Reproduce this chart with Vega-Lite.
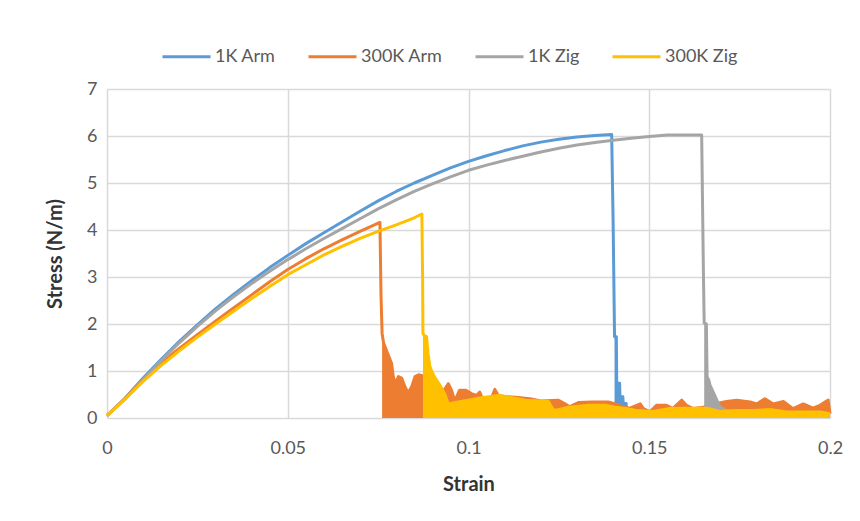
{
  "$schema": "https://vega.github.io/schema/vega-lite/v6.json",
  "autosize": "none",
  "width": 723,
  "height": 329,
  "padding": {"left": 107, "top": 89, "right": 30, "bottom": 103},
  "background": "#ffffff",
  "config": {
    "font": "Lato",
    "view": {"stroke": null},
    "axis": {
      "domain": false,
      "ticks": false,
      "grid": true,
      "gridColor": "#D9D9D9",
      "gridWidth": 1.5,
      "labelFont": "Lato",
      "labelFontSize": 18,
      "labelColor": "#595959",
      "titleFont": "Lato",
      "titleFontSize": 20,
      "titleFontWeight": "bold",
      "titleColor": "#333333"
    },
    "legend": {
      "labelFont": "Lato",
      "labelFontSize": 18,
      "labelColor": "#595959"
    }
  },
  "datasets": {
    "curves": [
      {"series": "1K Arm", "phase": "loading", "strain": 0, "stress": 0.05},
      {"series": "1K Arm", "phase": "loading", "strain": 0.005, "stress": 0.42},
      {"series": "1K Arm", "phase": "loading", "strain": 0.01, "stress": 0.85},
      {"series": "1K Arm", "phase": "loading", "strain": 0.015, "stress": 1.25},
      {"series": "1K Arm", "phase": "loading", "strain": 0.02, "stress": 1.63},
      {"series": "1K Arm", "phase": "loading", "strain": 0.025, "stress": 1.98},
      {"series": "1K Arm", "phase": "loading", "strain": 0.03, "stress": 2.32},
      {"series": "1K Arm", "phase": "loading", "strain": 0.035, "stress": 2.63},
      {"series": "1K Arm", "phase": "loading", "strain": 0.04, "stress": 2.92},
      {"series": "1K Arm", "phase": "loading", "strain": 0.045, "stress": 3.2},
      {"series": "1K Arm", "phase": "loading", "strain": 0.05, "stress": 3.46},
      {"series": "1K Arm", "phase": "loading", "strain": 0.055, "stress": 3.71},
      {"series": "1K Arm", "phase": "loading", "strain": 0.06, "stress": 3.94},
      {"series": "1K Arm", "phase": "loading", "strain": 0.065, "stress": 4.17},
      {"series": "1K Arm", "phase": "loading", "strain": 0.07, "stress": 4.4},
      {"series": "1K Arm", "phase": "loading", "strain": 0.075, "stress": 4.62},
      {"series": "1K Arm", "phase": "loading", "strain": 0.08, "stress": 4.82},
      {"series": "1K Arm", "phase": "loading", "strain": 0.085, "stress": 5.0},
      {"series": "1K Arm", "phase": "loading", "strain": 0.09, "stress": 5.16},
      {"series": "1K Arm", "phase": "loading", "strain": 0.095, "stress": 5.32},
      {"series": "1K Arm", "phase": "loading", "strain": 0.1, "stress": 5.46},
      {"series": "1K Arm", "phase": "loading", "strain": 0.105, "stress": 5.58},
      {"series": "1K Arm", "phase": "loading", "strain": 0.11, "stress": 5.69},
      {"series": "1K Arm", "phase": "loading", "strain": 0.115, "stress": 5.79},
      {"series": "1K Arm", "phase": "loading", "strain": 0.12, "stress": 5.87},
      {"series": "1K Arm", "phase": "loading", "strain": 0.125, "stress": 5.93},
      {"series": "1K Arm", "phase": "loading", "strain": 0.13, "stress": 5.98},
      {"series": "1K Arm", "phase": "loading", "strain": 0.135, "stress": 6.01},
      {"series": "1K Arm", "phase": "loading", "strain": 0.1396, "stress": 6.03},
      {"series": "1K Arm", "phase": "loading", "strain": 0.14, "stress": 4.2},
      {"series": "1K Arm", "phase": "post-failure", "strain": 0.1404, "stress": 1.73},
      {"series": "1K Arm", "phase": "post-failure", "strain": 0.1409, "stress": 1.73},
      {"series": "1K Arm", "phase": "post-failure", "strain": 0.141, "stress": 0.74},
      {"series": "1K Arm", "phase": "post-failure", "strain": 0.1418, "stress": 0.74},
      {"series": "1K Arm", "phase": "post-failure", "strain": 0.1419, "stress": 0.45},
      {"series": "1K Arm", "phase": "post-failure", "strain": 0.1427, "stress": 0.45},
      {"series": "1K Arm", "phase": "post-failure", "strain": 0.1428, "stress": 0.31},
      {"series": "1K Arm", "phase": "post-failure", "strain": 0.1436, "stress": 0.31},
      {"series": "1K Arm", "phase": "post-failure", "strain": 0.1437, "stress": 0.17},
      {"series": "1K Arm", "phase": "post-failure", "strain": 0.1444, "stress": 0.12},
      {"series": "1K Arm", "phase": "post-failure", "strain": 0.146, "stress": 0.05},
      {"series": "1K Arm", "phase": "post-failure", "strain": 0.15, "stress": 0.03},

      {"series": "300K Arm", "phase": "loading", "strain": 0, "stress": 0.05},
      {"series": "300K Arm", "phase": "loading", "strain": 0.005, "stress": 0.42},
      {"series": "300K Arm", "phase": "loading", "strain": 0.01, "stress": 0.82},
      {"series": "300K Arm", "phase": "loading", "strain": 0.015, "stress": 1.17},
      {"series": "300K Arm", "phase": "loading", "strain": 0.02, "stress": 1.48},
      {"series": "300K Arm", "phase": "loading", "strain": 0.025, "stress": 1.77},
      {"series": "300K Arm", "phase": "loading", "strain": 0.03, "stress": 2.06},
      {"series": "300K Arm", "phase": "loading", "strain": 0.035, "stress": 2.34},
      {"series": "300K Arm", "phase": "loading", "strain": 0.04, "stress": 2.62},
      {"series": "300K Arm", "phase": "loading", "strain": 0.045, "stress": 2.9},
      {"series": "300K Arm", "phase": "loading", "strain": 0.05, "stress": 3.16},
      {"series": "300K Arm", "phase": "loading", "strain": 0.055, "stress": 3.39},
      {"series": "300K Arm", "phase": "loading", "strain": 0.06, "stress": 3.6},
      {"series": "300K Arm", "phase": "loading", "strain": 0.065, "stress": 3.79},
      {"series": "300K Arm", "phase": "loading", "strain": 0.07, "stress": 3.97},
      {"series": "300K Arm", "phase": "loading", "strain": 0.0755, "stress": 4.16},
      {"series": "300K Arm", "phase": "loading", "strain": 0.0758, "stress": 2.6},
      {"series": "300K Arm", "phase": "post-failure", "strain": 0.0761, "stress": 1.8},
      {"series": "300K Arm", "phase": "post-failure", "strain": 0.0765, "stress": 1.6},
      {"series": "300K Arm", "phase": "post-failure", "strain": 0.0769, "stress": 1.52},
      {"series": "300K Arm", "phase": "post-failure", "strain": 0.0778, "stress": 1.34},
      {"series": "300K Arm", "phase": "post-failure", "strain": 0.0787, "stress": 1.17},
      {"series": "300K Arm", "phase": "post-failure", "strain": 0.0792, "stress": 0.88},
      {"series": "300K Arm", "phase": "post-failure", "strain": 0.0796, "stress": 0.74},
      {"series": "300K Arm", "phase": "post-failure", "strain": 0.0801, "stress": 0.8},
      {"series": "300K Arm", "phase": "post-failure", "strain": 0.0806, "stress": 0.88},
      {"series": "300K Arm", "phase": "post-failure", "strain": 0.0815, "stress": 0.85},
      {"series": "300K Arm", "phase": "post-failure", "strain": 0.0824, "stress": 0.67},
      {"series": "300K Arm", "phase": "post-failure", "strain": 0.0833, "stress": 0.53},
      {"series": "300K Arm", "phase": "post-failure", "strain": 0.0838, "stress": 0.6},
      {"series": "300K Arm", "phase": "post-failure", "strain": 0.0843, "stress": 0.67},
      {"series": "300K Arm", "phase": "post-failure", "strain": 0.0852, "stress": 0.88},
      {"series": "300K Arm", "phase": "post-failure", "strain": 0.0862, "stress": 0.92},
      {"series": "300K Arm", "phase": "post-failure", "strain": 0.0872, "stress": 0.9},
      {"series": "300K Arm", "phase": "post-failure", "strain": 0.0885, "stress": 0.75},
      {"series": "300K Arm", "phase": "post-failure", "strain": 0.0905, "stress": 0.6},
      {"series": "300K Arm", "phase": "post-failure", "strain": 0.092, "stress": 0.55},
      {"series": "300K Arm", "phase": "post-failure", "strain": 0.0935, "stress": 0.62},
      {"series": "300K Arm", "phase": "post-failure", "strain": 0.0944, "stress": 0.73},
      {"series": "300K Arm", "phase": "post-failure", "strain": 0.0953, "stress": 0.59},
      {"series": "300K Arm", "phase": "post-failure", "strain": 0.0962, "stress": 0.36},
      {"series": "300K Arm", "phase": "post-failure", "strain": 0.0975, "stress": 0.59},
      {"series": "300K Arm", "phase": "post-failure", "strain": 0.0993, "stress": 0.59},
      {"series": "300K Arm", "phase": "post-failure", "strain": 0.1008, "stress": 0.52},
      {"series": "300K Arm", "phase": "post-failure", "strain": 0.1022, "stress": 0.48},
      {"series": "300K Arm", "phase": "post-failure", "strain": 0.1031, "stress": 0.55},
      {"series": "300K Arm", "phase": "post-failure", "strain": 0.104, "stress": 0.38},
      {"series": "300K Arm", "phase": "post-failure", "strain": 0.1059, "stress": 0.34},
      {"series": "300K Arm", "phase": "post-failure", "strain": 0.1073, "stress": 0.61},
      {"series": "300K Arm", "phase": "post-failure", "strain": 0.1082, "stress": 0.48},
      {"series": "300K Arm", "phase": "post-failure", "strain": 0.11, "stress": 0.46},
      {"series": "300K Arm", "phase": "post-failure", "strain": 0.113, "stress": 0.44},
      {"series": "300K Arm", "phase": "post-failure", "strain": 0.117, "stress": 0.41},
      {"series": "300K Arm", "phase": "post-failure", "strain": 0.12, "stress": 0.36},
      {"series": "300K Arm", "phase": "post-failure", "strain": 0.1248, "stress": 0.38},
      {"series": "300K Arm", "phase": "post-failure", "strain": 0.1267, "stress": 0.3},
      {"series": "300K Arm", "phase": "post-failure", "strain": 0.128, "stress": 0.24},
      {"series": "300K Arm", "phase": "post-failure", "strain": 0.1304, "stress": 0.33},
      {"series": "300K Arm", "phase": "post-failure", "strain": 0.1341, "stress": 0.34},
      {"series": "300K Arm", "phase": "post-failure", "strain": 0.1387, "stress": 0.34},
      {"series": "300K Arm", "phase": "post-failure", "strain": 0.1406, "stress": 0.3},
      {"series": "300K Arm", "phase": "post-failure", "strain": 0.1425, "stress": 0.24},
      {"series": "300K Arm", "phase": "post-failure", "strain": 0.1447, "stress": 0.21},
      {"series": "300K Arm", "phase": "post-failure", "strain": 0.1475, "stress": 0.3},
      {"series": "300K Arm", "phase": "post-failure", "strain": 0.1484, "stress": 0.2},
      {"series": "300K Arm", "phase": "post-failure", "strain": 0.1502, "stress": 0.13},
      {"series": "300K Arm", "phase": "post-failure", "strain": 0.152, "stress": 0.27},
      {"series": "300K Arm", "phase": "post-failure", "strain": 0.1548, "stress": 0.27},
      {"series": "300K Arm", "phase": "post-failure", "strain": 0.1565, "stress": 0.2},
      {"series": "300K Arm", "phase": "post-failure", "strain": 0.159, "stress": 0.38},
      {"series": "300K Arm", "phase": "post-failure", "strain": 0.1603, "stress": 0.27},
      {"series": "300K Arm", "phase": "post-failure", "strain": 0.1622, "stress": 0.2},
      {"series": "300K Arm", "phase": "post-failure", "strain": 0.165, "stress": 0.23},
      {"series": "300K Arm", "phase": "post-failure", "strain": 0.168, "stress": 0.3},
      {"series": "300K Arm", "phase": "post-failure", "strain": 0.1714, "stress": 0.35},
      {"series": "300K Arm", "phase": "post-failure", "strain": 0.1742, "stress": 0.38},
      {"series": "300K Arm", "phase": "post-failure", "strain": 0.1779, "stress": 0.34},
      {"series": "300K Arm", "phase": "post-failure", "strain": 0.1797, "stress": 0.3},
      {"series": "300K Arm", "phase": "post-failure", "strain": 0.182, "stress": 0.41},
      {"series": "300K Arm", "phase": "post-failure", "strain": 0.1843, "stress": 0.3},
      {"series": "300K Arm", "phase": "post-failure", "strain": 0.1871, "stress": 0.35},
      {"series": "300K Arm", "phase": "post-failure", "strain": 0.1898, "stress": 0.2},
      {"series": "300K Arm", "phase": "post-failure", "strain": 0.1926, "stress": 0.3},
      {"series": "300K Arm", "phase": "post-failure", "strain": 0.1953, "stress": 0.21},
      {"series": "300K Arm", "phase": "post-failure", "strain": 0.1972, "stress": 0.27},
      {"series": "300K Arm", "phase": "post-failure", "strain": 0.1995, "stress": 0.38},
      {"series": "300K Arm", "phase": "post-failure", "strain": 0.2, "stress": 0.09},

      {"series": "1K Zig", "phase": "loading", "strain": 0, "stress": 0.05},
      {"series": "1K Zig", "phase": "loading", "strain": 0.005, "stress": 0.4},
      {"series": "1K Zig", "phase": "loading", "strain": 0.01, "stress": 0.82},
      {"series": "1K Zig", "phase": "loading", "strain": 0.015, "stress": 1.22},
      {"series": "1K Zig", "phase": "loading", "strain": 0.02, "stress": 1.6},
      {"series": "1K Zig", "phase": "loading", "strain": 0.025, "stress": 1.95},
      {"series": "1K Zig", "phase": "loading", "strain": 0.03, "stress": 2.28},
      {"series": "1K Zig", "phase": "loading", "strain": 0.035, "stress": 2.58},
      {"series": "1K Zig", "phase": "loading", "strain": 0.04, "stress": 2.86},
      {"series": "1K Zig", "phase": "loading", "strain": 0.045, "stress": 3.12},
      {"series": "1K Zig", "phase": "loading", "strain": 0.05, "stress": 3.37},
      {"series": "1K Zig", "phase": "loading", "strain": 0.055, "stress": 3.6},
      {"series": "1K Zig", "phase": "loading", "strain": 0.06, "stress": 3.82},
      {"series": "1K Zig", "phase": "loading", "strain": 0.065, "stress": 4.03},
      {"series": "1K Zig", "phase": "loading", "strain": 0.07, "stress": 4.24},
      {"series": "1K Zig", "phase": "loading", "strain": 0.075, "stress": 4.45},
      {"series": "1K Zig", "phase": "loading", "strain": 0.08, "stress": 4.64},
      {"series": "1K Zig", "phase": "loading", "strain": 0.085, "stress": 4.82},
      {"series": "1K Zig", "phase": "loading", "strain": 0.09, "stress": 4.98},
      {"series": "1K Zig", "phase": "loading", "strain": 0.095, "stress": 5.13},
      {"series": "1K Zig", "phase": "loading", "strain": 0.1, "stress": 5.27},
      {"series": "1K Zig", "phase": "loading", "strain": 0.105, "stress": 5.38},
      {"series": "1K Zig", "phase": "loading", "strain": 0.11, "stress": 5.48},
      {"series": "1K Zig", "phase": "loading", "strain": 0.115, "stress": 5.57},
      {"series": "1K Zig", "phase": "loading", "strain": 0.12, "stress": 5.66},
      {"series": "1K Zig", "phase": "loading", "strain": 0.125, "stress": 5.74},
      {"series": "1K Zig", "phase": "loading", "strain": 0.13, "stress": 5.81},
      {"series": "1K Zig", "phase": "loading", "strain": 0.135, "stress": 5.86},
      {"series": "1K Zig", "phase": "loading", "strain": 0.14, "stress": 5.91},
      {"series": "1K Zig", "phase": "loading", "strain": 0.145, "stress": 5.95},
      {"series": "1K Zig", "phase": "loading", "strain": 0.15, "stress": 5.99},
      {"series": "1K Zig", "phase": "loading", "strain": 0.155, "stress": 6.02},
      {"series": "1K Zig", "phase": "loading", "strain": 0.1645, "stress": 6.02},
      {"series": "1K Zig", "phase": "loading", "strain": 0.165, "stress": 3.0},
      {"series": "1K Zig", "phase": "post-failure", "strain": 0.1652, "stress": 2.02},
      {"series": "1K Zig", "phase": "post-failure", "strain": 0.1658, "stress": 2.0},
      {"series": "1K Zig", "phase": "post-failure", "strain": 0.166, "stress": 0.88},
      {"series": "1K Zig", "phase": "post-failure", "strain": 0.1665, "stress": 0.8},
      {"series": "1K Zig", "phase": "post-failure", "strain": 0.1668, "stress": 0.7},
      {"series": "1K Zig", "phase": "post-failure", "strain": 0.1677, "stress": 0.55},
      {"series": "1K Zig", "phase": "post-failure", "strain": 0.1687, "stress": 0.38},
      {"series": "1K Zig", "phase": "post-failure", "strain": 0.1696, "stress": 0.23},
      {"series": "1K Zig", "phase": "post-failure", "strain": 0.1714, "stress": 0.16},
      {"series": "1K Zig", "phase": "post-failure", "strain": 0.174, "stress": 0.1},
      {"series": "1K Zig", "phase": "post-failure", "strain": 0.178, "stress": 0.06},
      {"series": "1K Zig", "phase": "post-failure", "strain": 0.185, "stress": 0.04},
      {"series": "1K Zig", "phase": "post-failure", "strain": 0.2, "stress": 0.03},

      {"series": "300K Zig", "phase": "loading", "strain": 0, "stress": 0.05},
      {"series": "300K Zig", "phase": "loading", "strain": 0.005, "stress": 0.4},
      {"series": "300K Zig", "phase": "loading", "strain": 0.01, "stress": 0.78},
      {"series": "300K Zig", "phase": "loading", "strain": 0.015, "stress": 1.12},
      {"series": "300K Zig", "phase": "loading", "strain": 0.02, "stress": 1.43},
      {"series": "300K Zig", "phase": "loading", "strain": 0.025, "stress": 1.72},
      {"series": "300K Zig", "phase": "loading", "strain": 0.03, "stress": 2.0},
      {"series": "300K Zig", "phase": "loading", "strain": 0.035, "stress": 2.27},
      {"series": "300K Zig", "phase": "loading", "strain": 0.04, "stress": 2.54},
      {"series": "300K Zig", "phase": "loading", "strain": 0.045, "stress": 2.8},
      {"series": "300K Zig", "phase": "loading", "strain": 0.05, "stress": 3.05},
      {"series": "300K Zig", "phase": "loading", "strain": 0.055, "stress": 3.26},
      {"series": "300K Zig", "phase": "loading", "strain": 0.06, "stress": 3.47},
      {"series": "300K Zig", "phase": "loading", "strain": 0.065, "stress": 3.65},
      {"series": "300K Zig", "phase": "loading", "strain": 0.07, "stress": 3.82},
      {"series": "300K Zig", "phase": "loading", "strain": 0.075, "stress": 3.97},
      {"series": "300K Zig", "phase": "loading", "strain": 0.08, "stress": 4.11},
      {"series": "300K Zig", "phase": "loading", "strain": 0.085, "stress": 4.26},
      {"series": "300K Zig", "phase": "loading", "strain": 0.0871, "stress": 4.34},
      {"series": "300K Zig", "phase": "loading", "strain": 0.0873, "stress": 3.0},
      {"series": "300K Zig", "phase": "post-failure", "strain": 0.0874, "stress": 1.8},
      {"series": "300K Zig", "phase": "post-failure", "strain": 0.0878, "stress": 1.75},
      {"series": "300K Zig", "phase": "post-failure", "strain": 0.0884, "stress": 1.73},
      {"series": "300K Zig", "phase": "post-failure", "strain": 0.0888, "stress": 1.38},
      {"series": "300K Zig", "phase": "post-failure", "strain": 0.0893, "stress": 1.1},
      {"series": "300K Zig", "phase": "post-failure", "strain": 0.0898, "stress": 1.0},
      {"series": "300K Zig", "phase": "post-failure", "strain": 0.0907, "stress": 0.86},
      {"series": "300K Zig", "phase": "post-failure", "strain": 0.0914, "stress": 0.78},
      {"series": "300K Zig", "phase": "post-failure", "strain": 0.0921, "stress": 0.7},
      {"series": "300K Zig", "phase": "post-failure", "strain": 0.0928, "stress": 0.6},
      {"series": "300K Zig", "phase": "post-failure", "strain": 0.0935, "stress": 0.5},
      {"series": "300K Zig", "phase": "post-failure", "strain": 0.0944, "stress": 0.3},
      {"series": "300K Zig", "phase": "post-failure", "strain": 0.0971, "stress": 0.34},
      {"series": "300K Zig", "phase": "post-failure", "strain": 0.1, "stress": 0.38},
      {"series": "300K Zig", "phase": "post-failure", "strain": 0.1036, "stress": 0.43},
      {"series": "300K Zig", "phase": "post-failure", "strain": 0.1082, "stress": 0.48},
      {"series": "300K Zig", "phase": "post-failure", "strain": 0.111, "stress": 0.45},
      {"series": "300K Zig", "phase": "post-failure", "strain": 0.1156, "stress": 0.38},
      {"series": "300K Zig", "phase": "post-failure", "strain": 0.1221, "stress": 0.35},
      {"series": "300K Zig", "phase": "post-failure", "strain": 0.1232, "stress": 0.2},
      {"series": "300K Zig", "phase": "post-failure", "strain": 0.124, "stress": 0.16},
      {"series": "300K Zig", "phase": "post-failure", "strain": 0.1277, "stress": 0.23},
      {"series": "300K Zig", "phase": "post-failure", "strain": 0.1332, "stress": 0.27},
      {"series": "300K Zig", "phase": "post-failure", "strain": 0.1378, "stress": 0.27},
      {"series": "300K Zig", "phase": "post-failure", "strain": 0.1406, "stress": 0.23},
      {"series": "300K Zig", "phase": "post-failure", "strain": 0.1434, "stress": 0.2},
      {"series": "300K Zig", "phase": "post-failure", "strain": 0.1465, "stress": 0.16},
      {"series": "300K Zig", "phase": "post-failure", "strain": 0.1511, "stress": 0.14},
      {"series": "300K Zig", "phase": "post-failure", "strain": 0.1557, "stress": 0.2},
      {"series": "300K Zig", "phase": "post-failure", "strain": 0.1603, "stress": 0.21},
      {"series": "300K Zig", "phase": "post-failure", "strain": 0.1659, "stress": 0.21},
      {"series": "300K Zig", "phase": "post-failure", "strain": 0.1696, "stress": 0.14},
      {"series": "300K Zig", "phase": "post-failure", "strain": 0.1742, "stress": 0.16},
      {"series": "300K Zig", "phase": "post-failure", "strain": 0.1788, "stress": 0.16},
      {"series": "300K Zig", "phase": "post-failure", "strain": 0.1834, "stress": 0.18},
      {"series": "300K Zig", "phase": "post-failure", "strain": 0.188, "stress": 0.13},
      {"series": "300K Zig", "phase": "post-failure", "strain": 0.1926, "stress": 0.13},
      {"series": "300K Zig", "phase": "post-failure", "strain": 0.1972, "stress": 0.13},
      {"series": "300K Zig", "phase": "post-failure", "strain": 0.2, "stress": 0.09}
    ]
  },
  "data": {"name": "curves"},
  "encoding": {
    "x": {
      "field": "strain",
      "type": "quantitative",
      "scale": {"domain": [0, 0.2], "nice": false},
      "axis": {
        "title": "Strain",
        "values": [0, 0.05, 0.1, 0.15, 0.2],
        "format": "~g",
        "labelFlush": false,
        "labelPadding": 21,
        "titlePadding": 17
      }
    },
    "y": {
      "field": "stress",
      "type": "quantitative",
      "scale": {"domain": [0, 7], "nice": false},
      "axis": {
        "title": "Stress (N/m)",
        "values": [0, 1, 2, 3, 4, 5, 6, 7],
        "labelPadding": 10,
        "titlePadding": 21
      }
    },
    "color": {
      "field": "series",
      "type": "nominal",
      "scale": {
        "domain": ["1K Arm", "300K Arm", "1K Zig", "300K Zig"],
        "range": ["#5B9BD5", "#ED7D31", "#A5A5A5", "#FFC000"]
      },
      "legend": {
        "title": null,
        "orient": "none",
        "direction": "horizontal",
        "legendX": 54,
        "legendY": -58,
        "symbolType": "stroke",
        "symbolSize": 2304,
        "symbolStrokeWidth": 3,
        "labelOffset": 3,
        "columnPadding": 26
      }
    }
  },
  "layer": [
    {
      "transform": [{"filter": "datum.series === '1K Arm' && datum.phase === 'post-failure'"}],
      "mark": {"type": "area", "opacity": 1}
    },
    {
      "transform": [{"filter": "datum.series === '1K Arm'"}],
      "mark": {"type": "line", "strokeWidth": 3, "strokeJoin": "round"}
    },
    {
      "transform": [{"filter": "datum.series === '300K Arm' && datum.phase === 'post-failure'"}],
      "mark": {"type": "area", "opacity": 1}
    },
    {
      "transform": [{"filter": "datum.series === '300K Arm'"}],
      "mark": {"type": "line", "strokeWidth": 3, "strokeJoin": "round"}
    },
    {
      "transform": [{"filter": "datum.series === '1K Zig' && datum.phase === 'post-failure'"}],
      "mark": {"type": "area", "opacity": 1}
    },
    {
      "transform": [{"filter": "datum.series === '1K Zig'"}],
      "mark": {"type": "line", "strokeWidth": 3, "strokeJoin": "round"}
    },
    {
      "transform": [{"filter": "datum.series === '300K Zig' && datum.phase === 'post-failure'"}],
      "mark": {"type": "area", "opacity": 1}
    },
    {
      "transform": [{"filter": "datum.series === '300K Zig'"}],
      "mark": {"type": "line", "strokeWidth": 3, "strokeJoin": "round"}
    }
  ]
}
